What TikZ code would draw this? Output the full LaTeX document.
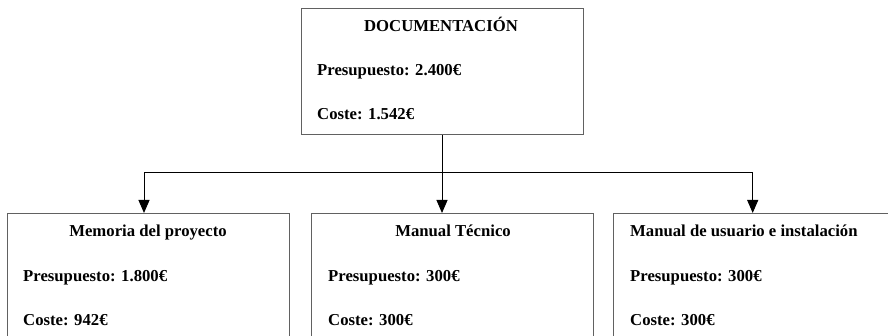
\documentclass[tikz,border=0pt]{standalone}
\usepackage{fontspec}
\setmainfont{Liberation Serif}
\usetikzlibrary{arrows.meta}
\begin{document}
\begin{tikzpicture}[x=1pt,y=-1pt,
  box/.style={draw=black!62, line width=1.4pt, fill=white, inner sep=0pt, anchor=north west},
  txt/.style={inner sep=0pt, font=\fontsize{16.7}{20}\selectfont\bfseries, text=black},
  conn/.style={draw=black, line width=1pt},
  arr/.style={conn, -{Triangle[length=13pt,width=11pt]}}]
\useasboundingbox (0,0) rectangle (888,336);
\clip (0,0) rectangle (888,336);
\fill[white] (0,0) rectangle (888,336);
% boxes
\node[box, minimum width=282pt, minimum height=126pt] (top) at (301,8) {};
\node[box, minimum width=282pt, minimum height=160pt] (left) at (7,213) {};
\node[box, minimum width=282pt, minimum height=160pt] (mid) at (311,213) {};
\node[box, minimum width=278pt, minimum height=160pt] (right) at (613,213) {};
% texts
\node[txt, anchor=base] (toptitle) at (441,32) {DOCUMENTACIÓN};
\node[txt, anchor=base west] (toppres) at (317,76) {Presupuesto: 2.400€};
\node[txt, anchor=base west] (topcost) at (317,120) {Coste: 1.542€};
\node[txt, anchor=base] (lefttitle) at (148,237) {Memoria del proyecto};
\node[txt, anchor=base west] (leftpres) at (23,282) {Presupuesto: 1.800€};
\node[txt, anchor=base west] (leftcost) at (23,325) {Coste: 942€};
\node[txt, anchor=base] (midtitle) at (453,237) {Manual Técnico};
\node[txt, anchor=base west] (midpres) at (328,282) {Presupuesto: 300€};
\node[txt, anchor=base west] (midcost) at (328,325) {Coste: 300€};
\node[txt, anchor=base west] (righttitle) at (630,237) {Manual de usuario e instalación};
\node[txt, anchor=base west] (rightpres) at (630,282) {Presupuesto: 300€};
\node[txt, anchor=base west] (rightcost) at (630,325) {Coste: 300€};
% connectors
\coordinate (j) at (442,173);
\coordinate (lefttip) at (144,213);
\draw[conn] (top.south -| j) -- (j);
\draw[arr] (j) -| (lefttip);
\draw[arr] (j) -- (mid.north -| j);
\draw[arr] (j) -| (right.north);
\end{tikzpicture}
\end{document}
